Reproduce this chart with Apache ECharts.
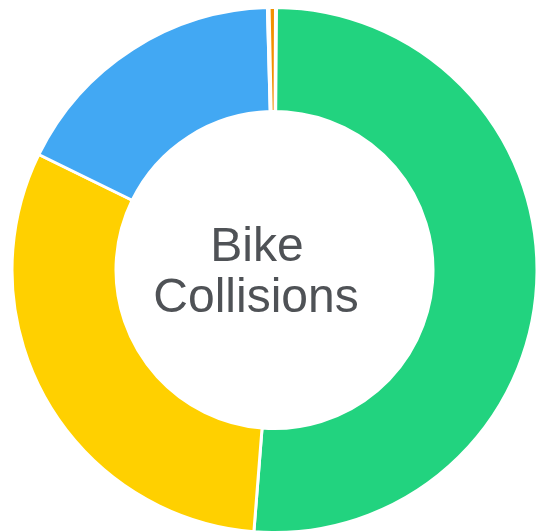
<!DOCTYPE html>
<html>
<head>
<meta charset="utf-8">
<script src="https://cdn.jsdelivr.net/npm/echarts@6/dist/echarts.min.js"></script>
<style>
html, body { margin: 0; padding: 0; background: #fff; }
#chart { width: 537px; height: 532px; }
</style>
</head>
<body>
<div id="chart"></div>
<script>
// slices clockwise from the top
const categories = ['Unknown', 'No Injury', 'Possible Injury', 'Non-Incapacitating', 'Incapacitating', 'Fatal']
const counts = [6, 5113, 3100, 1732, 10, 39]
const colors = ['#e0e0e0', '#22d37f', '#ffd000', '#42a8f3', '#e0e0e0', '#f29100']
const title = ['Bike', 'Collisions']

const chart = echarts.init(document.getElementById('chart'))
chart.setOption({
    animation: false,
    series: [
        {
            type: 'pie',
            center: [274.5, 270],
            radius: [158.5, 262.5],
            startAngle: 89.78,
            label: { show: false },
            labelLine: { show: false },
            emphasis: { scale: false },
            itemStyle: {
                borderColor: '#fff',
                borderWidth: 3
            },
            data: categories.map((name, i) => ({
                name: name,
                value: counts[i],
                itemStyle: { color: colors[i] }
            }))
        }
    ],
    graphic: [
        {
            type: 'text',
            style: {
                text: title[0], x: 257, y: 248,
                fill: '#4f5256', font: '48px "Liberation Sans", Arial, sans-serif',
                align: 'center', verticalAlign: 'middle'
            }
        },
        {
            type: 'text',
            style: {
                text: title[1], x: 256, y: 299,
                fill: '#4f5256', font: '48px "Liberation Sans", Arial, sans-serif',
                align: 'center', verticalAlign: 'middle'
            }
        }
    ]
})
</script>
</body>
</html>
